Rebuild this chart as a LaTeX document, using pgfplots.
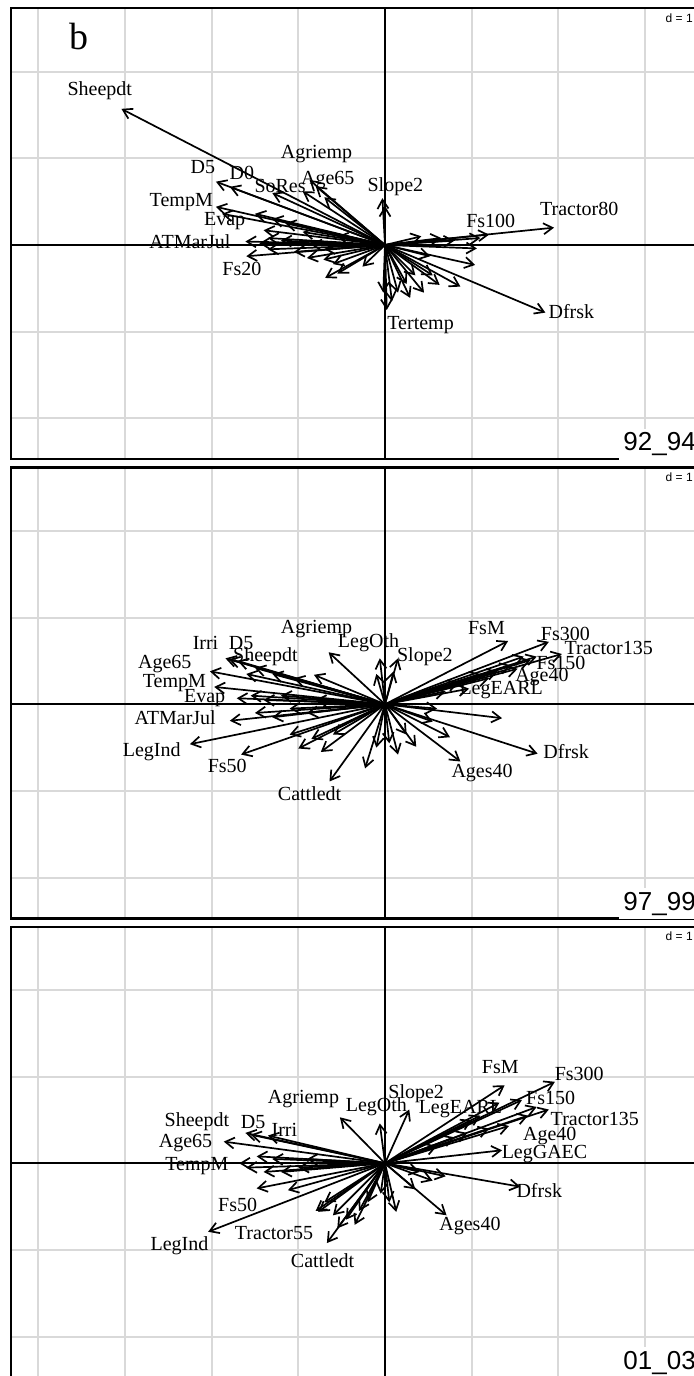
\documentclass[border=0pt]{standalone}
\usepackage{fontspec}
\setmainfont{Liberation Serif}
\newfontfamily\sansf{Liberation Sans}
\usepackage{pgfplots}
\usepackage{pgfplotstable}
\pgfplotsset{compat=1.18}
\usetikzlibrary{arrows.meta}

\newcommand{\lab}{\fontsize{10pt}{11pt}\selectfont}

\pgfplotsset{
  panel/.style={
    x=43.35pt, y=43.35pt,
    xmin=-4.31, xmax=3.8, ymin=-2.47, ymax=2.73,
    anchor=origin,
    xtick={-4,-3,-2,-1,1,2,3}, ytick={-2,-1,1,2},
    xticklabels={}, yticklabels={},
    major tick length=0pt,
    grid=major,
    major grid style={color=black!15, line width=1pt},
    axis line style={line width=1.1pt},
  },
  arr/.style={quiver={u=\thisrow{u},v=\thisrow{v}},
    -{Straight Barb[length=4.5pt,width=5.5pt]}, line width=0.85pt, black},
  labs/.style={draw=none, nodes near coords, point meta=explicit symbolic,
    nodes near coords style={anchor=center, font=\lab, inner sep=0pt}},
}

% ---------- panel 1 (92_94) ----------
\pgfplotstableread{
u v
-3.04 1.57
-1.95 0.73
-1.79 0.67
-1.30 0.60
-0.87 0.75
-0.80 0.68
-0.95 0.62
-0.70 0.55
-1.95 0.44
-1.88 0.36
-1.50 0.36
-1.30 0.30
-1.61 0.04
-1.45 0.02
-1.35 0.08
-1.60 -0.13
-1.40 0.17
-1.15 0.25
-0.95 0.15
-1.20 0.05
-0.85 0.00
-1.05 -0.08
-0.70 -0.05
-0.55 0.10
-1.35 -0.05
-0.90 -0.15
-0.71 -0.17
-0.60 -0.22
-0.69 -0.38
-0.55 -0.33
-0.26 -0.25
-0.03 0.54
0.00 0.45
0.02 -0.75
0.08 -0.65
-0.02 -0.55
1.95 0.20
1.10 0.08
1.20 0.12
1.06 -0.04
1.04 -0.23
0.87 -0.48
0.63 -0.46
0.29 -0.61
0.52 -0.13
0.42 0.10
0.65 0.08
0.80 0.05
1.85 -0.78
0.15 -0.55
0.25 -0.45
0.45 -0.55
0.35 -0.35
0.55 -0.35
}\arrA
\pgfplotstableread{
x y t
-3.29 1.78 Sheepdt
-2.10 0.90 D5
-1.65 0.83 D0
-1.21 0.68 SoRes
-0.66 0.75 Age65
-0.79 1.05 Agriemp
0.12 0.67 Slope2
-2.35 0.50 TempM
-1.85 0.27 Evap
-2.25 0.04 ATMarJul
-1.65 -0.28 Fs20
1.22 0.28 Fs100
2.24 0.42 Tractor80
2.15 -0.77 Dfrsk
0.41 -0.92 Tertemp
}\labA

% ---------- panel 2 (97_99) ----------
\pgfplotstableread{
u v
-0.65 0.60
-0.06 0.53
-0.10 0.35
0.15 0.53
0.10 0.38
1.42 0.73
1.89 0.72
2.04 0.58
1.68 0.51
1.53 0.41
0.97 0.18
1.60 0.55
1.45 0.45
1.30 0.38
1.20 0.30
1.10 0.35
0.85 0.25
0.70 0.15
1.75 0.55
1.35 -0.16
0.60 -0.05
0.75 -0.38
0.87 -0.66
1.76 -0.57
0.55 -0.20
0.15 -0.58
0.36 -0.49
0.05 -0.45
0.25 -0.35
-0.23 -0.74
-0.10 -0.50
-0.64 -0.89
-1.00 -0.51
-0.74 -0.55
-0.85 -0.40
-1.10 -0.35
-0.60 -0.35
-1.66 -0.58
-2.25 -0.46
-1.79 -0.19
-1.50 -0.10
-1.30 -0.15
-1.10 -0.05
-0.90 -0.10
-1.40 0.05
-1.55 0.10
-1.20 0.10
-0.80 0.05
-1.71 0.07
-1.97 0.20
-2.02 0.38
-1.84 0.53
-1.80 0.52
-1.70 0.50
-1.50 0.42
-1.60 0.35
-1.30 0.35
-0.82 0.34
-1.05 0.30
}\arrB
\pgfplotstableread{
x y t
-0.79 0.87 Agriemp
-0.19 0.71 LegOth
0.46 0.55 Slope2
1.17 0.88 FsM
2.08 0.81 Fs300
2.58 0.65 Tractor135
2.03 0.48 Fs150
1.81 0.32 Age40
1.34 0.16 LegEARL
2.09 -0.55 Dfrsk
1.12 -0.79 Ages40
-0.87 -1.03 Cattledt
-1.82 -0.71 Fs50
-2.69 -0.55 LegInd
-2.42 -0.15 ATMarJul
-2.08 0.07 Evap
-2.43 0.24 TempM
-2.54 0.47 Age65
-2.07 0.71 Irri
-1.66 0.71 D5
-1.38 0.55 Sheepdt
}\labB

% ---------- panel 3 (01_03) ----------
\pgfplotstableread{
u v
1.38 0.90
1.96 0.94
1.58 0.73
1.89 0.62
1.43 0.43
1.32 0.70
1.35 0.15
1.75 0.65
1.65 0.55
1.10 0.55
0.95 0.35
0.80 0.30
1.20 0.40
0.60 0.20
1.00 0.50
0.28 0.62
-0.06 0.46
-0.52 0.53
-1.61 0.35
-1.55 0.33
-1.35 0.32
-1.86 0.25
-1.68 0.00
-1.48 0.08
-1.60 -0.05
-1.40 -0.10
-1.20 -0.10
-1.00 -0.05
-1.30 0.05
-0.90 0.05
-1.48 -0.29
-1.12 -0.31
-2.04 -0.79
-0.77 -0.56
-0.67 -0.92
-0.55 -0.75
-0.45 -0.65
-0.35 -0.71
-0.60 -0.60
-0.30 -0.55
-0.20 -0.45
-0.80 -0.55
-0.70 -0.45
0.13 -0.56
0.05 -0.45
-0.05 -0.35
0.71 -0.60
1.56 -0.27
0.55 -0.20
0.70 -0.15
0.35 -0.30
0.40 -0.10
}\arrC
\pgfplotstableread{
x y t
1.33 1.11 FsM
2.24 1.03 Fs300
1.91 0.75 Fs150
2.42 0.51 Tractor135
1.90 0.31 Age40
1.84 0.11 LegGAEC
0.87 0.62 LegEARL
0.36 0.80 Slope2
-0.10 0.65 LegOth
-0.94 0.74 Agriemp
-2.17 0.48 Sheepdt
-1.52 0.48 D5
-1.16 0.39 Irri
-2.30 0.23 Age65
-2.17 -0.03 TempM
-1.70 -0.48 Fs50
-2.37 -0.95 LegInd
-1.28 -0.80 Tractor55
-0.72 -1.12 Cattledt
0.98 -0.72 Ages40
1.78 -0.32 Dfrsk
}\labC

\begin{document}
\begin{tikzpicture}
\path[use as bounding box] (0,0) rectangle (347pt,688pt);

% panel 1
\begin{axis}[panel, at={(192.5pt,565.5pt)}]
\addplot[black, line width=0.9pt] coordinates {(-5,0) (5,0)};
\addplot[black, line width=0.9pt] coordinates {(0,-3) (0,3)};
\addplot[arr] table[x expr=0, y expr=0] {\arrA};
\addplot[labs] table[meta=t] {\labA};
\node[font=\fontsize{19pt}{20pt}\selectfont] at (axis cs:-3.53,2.40) {b};
\node[anchor=west, font=\sansf\fontsize{6pt}{7pt}\selectfont, inner sep=1pt] at (axis cs:3.21,2.62) {d = 1};
\node[anchor=west, fill=white, font=\sansf\fontsize{13pt}{14pt}\selectfont, inner sep=2pt] at (axis cs:2.70,-2.30) {92\_94};
\end{axis}

% panel 2
\begin{axis}[panel, at={(192.5pt,335.85pt)}]
\addplot[black, line width=0.9pt] coordinates {(-5,0) (5,0)};
\addplot[black, line width=0.9pt] coordinates {(0,-3) (0,3)};
\addplot[arr] table[x expr=0, y expr=0] {\arrB};
\addplot[labs] table[meta=t] {\labB};
\node[anchor=west, font=\sansf\fontsize{6pt}{7pt}\selectfont, inner sep=1pt] at (axis cs:3.21,2.62) {d = 1};
\node[anchor=west, fill=white, font=\sansf\fontsize{13pt}{14pt}\selectfont, inner sep=2pt] at (axis cs:2.70,-2.30) {97\_99};
\end{axis}

% panel 3
\begin{axis}[panel, at={(192.5pt,106.35pt)}]
\addplot[black, line width=0.9pt] coordinates {(-5,0) (5,0)};
\addplot[black, line width=0.9pt] coordinates {(0,-3) (0,3)};
\addplot[arr] table[x expr=0, y expr=0] {\arrC};
\addplot[labs] table[meta=t] {\labC};
\node[anchor=west, font=\sansf\fontsize{6pt}{7pt}\selectfont, inner sep=1pt] at (axis cs:3.21,2.62) {d = 1};
\node[anchor=west, fill=white, font=\sansf\fontsize{13pt}{14pt}\selectfont, inner sep=2pt] at (axis cs:2.70,-2.30) {01\_03};
\end{axis}
\end{tikzpicture}
\end{document}
